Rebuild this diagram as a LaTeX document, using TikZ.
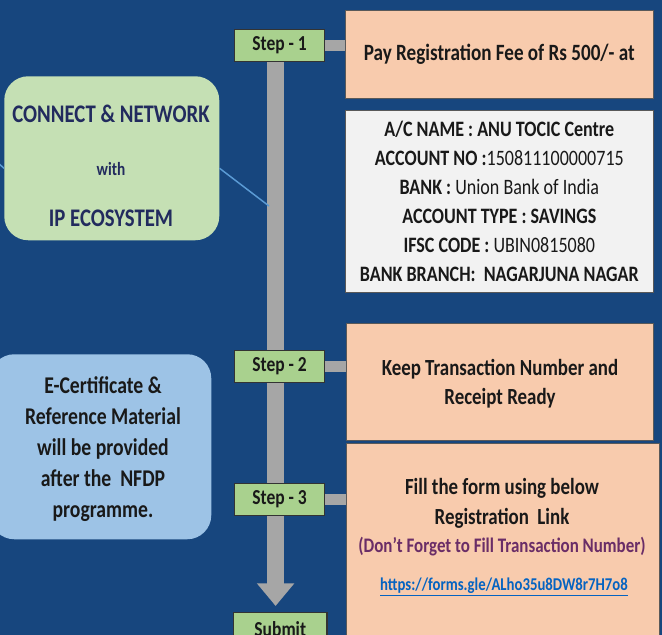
\documentclass[tikz,border=0pt]{standalone}
\usepackage{fontspec}
\setmainfont{Carlito}[FakeStretch=0.82]
\usetikzlibrary{positioning,arrows.meta,backgrounds}
\definecolor{bgBlue}{HTML}{17467E}
\definecolor{stepGreen}{HTML}{A9D18E}
\definecolor{netGreen}{HTML}{C5E0B4}
\definecolor{payPeach}{HTML}{F8CBAD}
\definecolor{acctGrey}{HTML}{F2F2F2}
\definecolor{certBlue}{HTML}{9DC3E6}
\definecolor{barGrey}{HTML}{A6A6A6}
\definecolor{inkNavy}{HTML}{222B5E}
\definecolor{inkPlum}{HTML}{6A2D67}
\definecolor{linkBlue}{HTML}{0563C1}
\definecolor{tapBlue}{HTML}{5B9BD5}
\tikzset{
 infobox/.style={draw=black!65, line width=0.5pt, anchor=north west, inner sep=0pt, align=center, text=black!90},
 roundbox/.style={rounded corners=18pt, anchor=north west, inner sep=0pt, align=center},
 joint/.style={draw=barGrey, line width=8.25pt},
 bar/.style={draw=barGrey, line width=12.75pt, -{Triangle[width=27pt,length=17pt]}},
 tapline/.style={draw=tapBlue, line width=1.1pt},
}
\newcommand{\stepnode}[3]{%
 \node[draw=black!80, fill=stepGreen, line width=0.9pt, anchor=north west, minimum width=67.5pt, minimum height=24pt, inner sep=0pt, font=\fontsize{16}{18}\selectfont\bfseries, text=black!90] (#1) at (234,#2) {#3};%
}

\begin{document}
\begin{tikzpicture}[x=0.75pt,y=-0.75pt]
\useasboundingbox (0,0) rectangle (662,635);
\begin{scope}[on background layer]
\fill[bgBlue] (0,0) rectangle (662,635);
\end{scope}
% left column
\node[roundbox, fill=netGreen, minimum width=161.25pt, minimum height=123pt] (net) at (4,76) {};
\node[font=\fontsize{19}{22}\selectfont\bfseries, text=inkNavy, align=center] (nettxt) at (111,165.5)
 {CONNECT \& NETWORK\\[18pt]{\fontsize{14}{16}\selectfont with}\\[16pt]IP ECOSYSTEM};
\node[roundbox, fill=certBlue, minimum width=165.75pt, minimum height=138.75pt] (cert) at (-10,354) {};
\node[font=\fontsize{18}{23.25}\selectfont\bfseries, text=black!90, align=center] (certtxt) at (103,449)
 {E-Certificate \&\\Reference Material\\will be provided\\after the~ NFDP\\programme.};
% steps
\stepnode{s1}{29}{Step - 1}
\stepnode{s2}{350}{Step - 2}
\stepnode{s3}{483}{Step - 3}
\node[draw=black!80, fill=stepGreen, line width=0.9pt, anchor=north west, minimum width=70pt, minimum height=24pt, inner sep=0pt, font=\fontsize{16}{18}\selectfont\bfseries, text=black!90] (submit) at (233,612) {Submit};
% right column
\node[infobox, fill=payPeach, minimum width=231pt, minimum height=66pt, font=\fontsize{17.5}{21}\selectfont\bfseries] (pay) at (345,10)
 {Pay Registration Fee of Rs 500/- at};
\node[infobox, fill=acctGrey, minimum width=231pt, minimum height=136.5pt, font=\fontsize{16.5}{21.75}\selectfont\bfseries] (acct) at (345,110)
 {A/C NAME : ANU TOCIC Centre\\
  ACCOUNT NO :{\mdseries 150811100000715}\\
  BANK : {\mdseries Union Bank of India}\\
  ACCOUNT TYPE : SAVINGS\\
  IFSC CODE : {\mdseries UBIN0815080}\\
  BANK BRANCH:~ NAGARJUNA NAGAR};
\node[infobox, fill=payPeach, minimum width=230.25pt, minimum height=87.75pt] (keep) at (346,323) {};
\node[font=\fontsize{17.3}{22}\selectfont\bfseries, text=black!90, align=center] (keeptxt) at (500,384)
 {Keep Transaction Number and\\Receipt Ready};
\node[infobox, fill=payPeach, minimum width=234.75pt, minimum height=150pt] (form) at (346,443) {};
\node[font=\fontsize{17.3}{22}\selectfont\bfseries, text=black!90, align=center] (formtxt) at (502,517)
 {Fill the form using below\\Registration~ Link\\[-1pt]{\fontsize{15.5}{18}\selectfont\color{inkPlum}(Don’t Forget to Fill Transaction Number)}};
\node[font=\fontsize{13.5}{16}\selectfont\bfseries, text=linkBlue] (formlink) at (504,587)
 {\underline{https://forms.gle/ALho35u8DW8r7H7o8}};
% connectors
\draw[joint] (s1.east) -- (s1.east -| pay.west);
\draw[joint] (s2.east) -- (s2.east -| keep.west);
\draw[joint] (s3.east) -- (s3.east -| form.west);
\begin{scope}[on background layer]
\draw[bar] ([xshift=-3pt]s1.south) -- ([xshift=-3.5pt,yshift=4.5pt]submit.north);
\end{scope}
\coordinate (tap) at (269,206);
\draw[tapline] ([yshift=-7.5pt]net.east) -- (tap);
\coordinate (stub) at (-3,162);
\draw[tapline] (stub) -- ([yshift=-7.5pt]net.west);
\end{tikzpicture}
\end{document}
